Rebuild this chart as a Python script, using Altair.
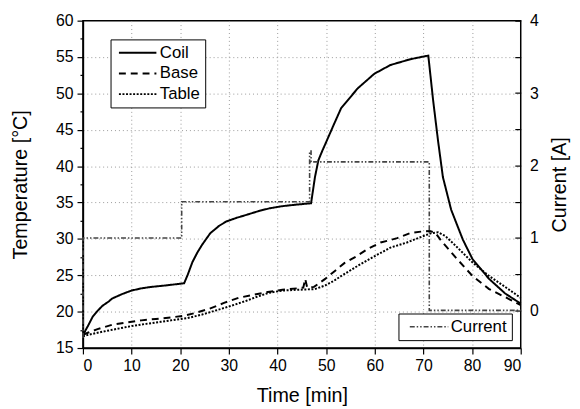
import altair as alt
import pandas as pd

FONT = "Liberation Sans"

# ---- data ----
coil_t = [0, 0.5, 1, 2, 3, 4, 5.3, 6, 8, 10, 12, 14, 17, 20.8, 21.5, 22.5, 23.5, 24.5, 26.2, 28, 29.5,
          31.6, 33.6, 36, 38.3, 41, 43.7, 46.9, 47.7, 48.4, 49.2, 49.8, 51.5, 53.1, 56.5, 59.9, 63.2,
          67.3, 71, 72, 73, 74, 75.7, 78.1, 80.1, 83.5, 86.8, 90]
coil_v = [16.6, 17.4, 18.0, 19.3, 20.1, 20.8, 21.4, 21.8, 22.4, 22.9, 23.2, 23.4, 23.6, 23.9, 25.0,
          26.8, 28.1, 29.2, 30.8, 31.8, 32.4, 32.9, 33.3, 33.8, 34.2, 34.5, 34.7, 34.9, 38.5, 40.8,
          42.1, 43.0, 45.6, 48.0, 50.7, 52.7, 53.9, 54.7, 55.2, 49.0, 43.5, 38.5, 34.0, 29.9, 27.2,
          24.5, 22.5, 21.1]

base_t = [0, 1, 3, 6, 9, 12, 15, 18, 20.5, 23, 26, 29, 32, 35, 38, 41, 44, 45.3, 45.7, 46.1, 47.5,
          49.8, 51.8, 53.8, 56.2, 58.5, 61.2, 64.6, 67.3, 69.5, 71.3, 72.5, 73.7, 76.7, 80.1, 83.5,
          86.8, 90]
base_v = [16.8, 17.1, 17.6, 18.2, 18.5, 18.8, 19.0, 19.2, 19.4, 19.8, 20.4, 21.2, 21.9, 22.3, 22.7,
          23.0, 23.2, 23.3, 24.5, 23.3, 23.4, 24.5, 25.6, 26.7, 27.6, 28.6, 29.5, 30.1, 30.8, 31.0,
          31.1, 30.8, 29.7, 27.4, 24.9, 23.1, 22.0, 20.9]

table_t = [0, 1, 3, 6, 9, 12.7, 16, 19, 21.4, 24.5, 27.5, 30.5, 33.6, 36, 38.3, 41, 44, 47.7, 49.8,
           51.5, 53.1, 56.5, 59.9, 63.2, 66.6, 70, 71.7, 73, 74.5, 76.7, 80.1, 83.5, 86.8, 90]
table_v = [16.6, 16.8, 17.1, 17.5, 17.9, 18.3, 18.6, 18.9, 19.1, 19.6, 20.2, 20.8, 21.5, 22.1, 22.6,
           22.9, 23.0, 23.1, 23.6, 24.2, 24.9, 26.3, 27.6, 28.8, 29.5, 30.4, 30.8, 30.9, 30.4, 29.0,
           26.75, 24.9, 23.4, 21.9]

cur_t = [0, 0, 20.3, 46.6, 46.9, 71.2, 90]
cur_v = [-0.38, 1.0, 1.5, 2.2, 2.05, 0.0, 0.0]

series_names = ["Coil", "Base", "Table"]
x_ticks = [v * 5 for v in range(0, 19)]
t_ticks = [15 + 2.5 * i for i in range(0, 19)]
i_ticks = [0.5 * i for i in range(0, 9)]

# ---- tables ----
frames = []
for name, ts, vs in [("Coil", coil_t, coil_v), ("Base", base_t, base_v), ("Table", table_t, table_v)]:
    frames.append(pd.DataFrame({"t": ts, "T": vs, "series": name, "o": list(range(len(ts)))}))
temp_df = pd.concat(frames, ignore_index=True)
cur_df = pd.DataFrame({"t": cur_t, "I": cur_v, "series": "Current", "o": list(range(len(cur_t)))})

x_enc = alt.X(
    "t:Q",
    scale=alt.Scale(domain=[0, 90], nice=False, zero=False),
    axis=alt.Axis(
        title="Time [min]",
        values=x_ticks,
        labelExpr="datum.value % 10 == 0 ? datum.label : ''",
        tickSize={"condition": {"test": "datum.value % 10 == 0", "value": 6}, "value": 3},
        grid=True,
        gridOpacity={"condition": {"test": "datum.value % 10 == 0 && datum.value > 0 && datum.value < 90", "value": 1}, "value": 0},
        labelPadding=4,
        titlePadding=12,
    ),
)

temp = alt.Chart(temp_df).mark_line(color="black", strokeWidth=2).encode(
    x=x_enc,
    y=alt.Y(
        "T:Q",
        scale=alt.Scale(domain=[15, 60], nice=False, zero=False),
        axis=alt.Axis(
            orient="left",
            title="Temperature [°C]",
            values=t_ticks,
            labelExpr="datum.value % 5 == 0 ? datum.label : ''",
            tickSize={"condition": {"test": "datum.value % 5 == 0", "value": 6}, "value": 3},
            grid=True,
            gridOpacity={"condition": {"test": "datum.value % 5 == 0 && datum.value > 15 && datum.value < 60", "value": 1}, "value": 0},
            labelPadding=4,
            titlePadding=25,
        ),
    ),
    strokeDash=alt.StrokeDash(
        "series:N",
        scale=alt.Scale(domain=series_names, range=[[1, 0], [7, 5], [2, 1.6]]),
        legend=alt.Legend(
            orient="none", legendX=28, legendY=19, title=None,
            symbolType="M-1,0H6.6", symbolSize=100, symbolStrokeWidth=2,
            symbolStrokeColor="black", symbolFillColor="transparent",
            labelFont=FONT, labelFontSize=17,
            labelColor="black", strokeColor="black", fillColor="white",
            padding=5, rowPadding=3, labelOffset=28,
        ),
    ),
    order=alt.Order("o:Q"),
)

cur = alt.Chart(cur_df).mark_line(color="#444", strokeWidth=1.6, interpolate="step-after").encode(
    x=alt.X("t:Q"),
    y=alt.Y(
        "I:Q",
        scale=alt.Scale(domain=[-0.52, 4], nice=False, zero=False),
        axis=alt.Axis(
            orient="right",
            title="Current [A]",
            titleAngle=270,
            titleBaseline="top",
            values=i_ticks,
            labelExpr="datum.value % 1 == 0 ? format(datum.value, 'd') : ''",
            tickSize=6,
            offset=-6,
            domain=False,
            grid=False,
            labelPadding=9,
            titlePadding=12,
        ),
    ),
    strokeDash=alt.StrokeDash(
        "series:N",
        scale=alt.Scale(domain=["Current"], range=[[5, 2, 1.5, 2, 1.5, 2]]),
        legend=alt.Legend(
            orient="none", legendX=320, legendY=297, title=None,
            symbolType="M-0.4,0H7.4", symbolSize=100, symbolStrokeWidth=1.6,
            symbolStrokeColor="#444", symbolFillColor="transparent",
            labelFont=FONT, labelFontSize=17,
            labelColor="black", strokeColor="black", fillColor="white",
            padding=5, labelOffset=31,
        ),
    ),
    order=alt.Order("o:Q"),
)

chart = (
    alt.layer(temp, cur)
    .resolve_scale(y="independent", strokeDash="independent")
    .properties(
        width=444, height=332,
        autosize=alt.AutoSizeParams(type="none"),
        padding={"left": 76, "top": 10, "right": 52, "bottom": 59},
        background="white",
    )
    .configure_view(stroke="black", strokeWidth=1.5)
    .configure_axis(
        labelFont=FONT, labelFontSize=16, labelColor="black",
        titleFont=FONT, titleFontSize=20, titleFontWeight="normal", titleColor="black",
        domainColor="black", domainWidth=1.5, tickColor="black", tickWidth=1.2,
        gridColor="#999999", gridDash=[1, 3], gridWidth=1,
    )
)

chart.save("out.html", embed_options={"renderer": "svg", "actions": False})
